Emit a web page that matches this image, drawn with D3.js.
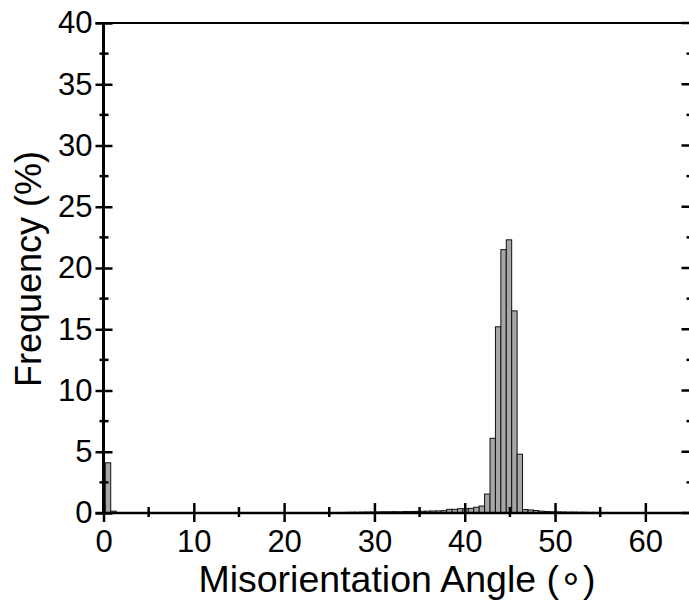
<!DOCTYPE html>
<html>
<head>
<meta charset="utf-8">
<script src="https://cdn.jsdelivr.net/npm/d3@7"></script>
<style>
  html, body { margin: 0; padding: 0; background: #fff; }
  svg { display: block; }
  text { font-family: "Liberation Sans", Arial, sans-serif; fill: #000; }
</style>
</head>
<body>
<svg id="chart" width="689" height="607"></svg>
<script>
// Misorientation angle histogram: bins 0.6° wide, first bin starts at 0.2°
const binStart = 0.2;
const binWidth = 0.6;
const frequency = [
  4.1, 0.15, 0, 0, 0, 0, 0, 0, 0, 0,              // 0.2 – 6.2
  0, 0, 0, 0, 0, 0, 0, 0, 0, 0,                   // 6.2 – 12.2
  0, 0, 0, 0, 0, 0, 0, 0, 0, 0,                   // 12.2 – 18.2
  0, 0, 0, 0, 0, 0, 0, 0, 0, 0,                   // 18.2 – 24.2
  0, 0, 0, 0.03, 0.05, 0.06, 0.06, 0.07, 0.08, 0.08, // 24.2 – 30.2
  0.09, 0.1, 0.1, 0.11, 0.1, 0.12, 0.12, 0.13, 0.14, 0.15, // 30.2 – 36.2
  0.16, 0.17, 0.19, 0.3, 0.3, 0.35, 0.35, 0.38, 0.47, 0.57, // 36.2 – 42.2
  1.55, 6.1, 15.2, 21.5, 22.3, 16.5, 4.8, 0.28, 0.25, 0.2,  // 42.2 – 48.2
  0.15, 0.12, 0.1, 0.09, 0.08, 0.07, 0.07, 0.06, 0.06, 0.05, // 48.2 – 54.2
  0.05, 0.04, 0.04, 0.03, 0.03, 0.02, 0, 0, 0, 0  // 54.2 – 60.2
];
const xTicks = [0, 10, 20, 30, 40, 50, 60];
const yTicks = [0, 5, 10, 15, 20, 25, 30, 35, 40];
const xTitle = "Misorientation Angle (\u2218)";
const yTitle = "Frequency (%)";

const svg = d3.select("#chart");
const plotL = 103.5, plotR = 690.5, plotT = 23, plotB = 513;

const x = d3.scaleLinear().domain([0, 65]).range([plotL, plotR]);
const y = d3.scaleLinear().domain([0, 40]).range([plotB, plotT]);

const bins = frequency.map((v, i) => ({ x0: binStart + i * binWidth, v }))
  .filter(d => d.v > 0);

// bars
svg.append("g").selectAll("rect").data(bins).join("rect")
  .attr("x", d => x(d.x0))
  .attr("width", d => x(d.x0 + binWidth) - x(d.x0))
  .attr("y", d => y(d.v))
  .attr("height", d => y(0) - y(d.v))
  .attr("fill", "#a6a6a6")
  .attr("stroke", "#111")
  .attr("stroke-width", 1);

const minorX = d3.range(5, 65, 10);
const minorY = d3.range(2.5, 40, 5);

// frame: top and right edges
svg.append("line").attr("x1", plotL - 8).attr("x2", plotR).attr("y1", plotT).attr("y2", plotT)
  .attr("stroke", "#000").attr("stroke-width", 2);
svg.append("line").attr("x1", plotR).attr("x2", plotR).attr("y1", plotT).attr("y2", plotB)
  .attr("stroke", "#000").attr("stroke-width", 2.5);

// right axis inward ticks
const rg = svg.append("g").attr("stroke", "#000").attr("stroke-width", 2.5);
rg.selectAll(".rmaj").data(yTicks).join("line").attr("class", "rmaj")
  .attr("x1", plotR - 9).attr("x2", plotR).attr("y1", d => y(d)).attr("y2", d => y(d));
rg.selectAll(".rmin").data(minorY).join("line").attr("class", "rmin")
  .attr("x1", plotR - 4).attr("x2", plotR).attr("y1", d => y(d)).attr("y2", d => y(d));

// left axis
const yAxis = d3.axisLeft(y).tickValues(yTicks).tickSize(8).tickSizeOuter(0).tickPadding(5)
  .tickFormat(d3.format("d"));
const gy = svg.append("g").attr("transform", `translate(${plotL},0)`).call(yAxis);
gy.select(".domain").attr("stroke-width", 3).attr("d", `M0,${plotT - 1}V${plotB + 1}`);
gy.selectAll(".tick line").attr("x2", -8).attr("x1", 9).attr("stroke-width", 2.5);
gy.selectAll(".tick text").attr("font-size", 31).attr("x", -11)
  .style("font-family", "'Liberation Sans', Arial, sans-serif");
gy.selectAll(".ymin").data(minorY).join("line").attr("class", "ymin")
  .attr("x1", -4).attr("x2", 5).attr("y1", d => y(d)).attr("y2", d => y(d))
  .attr("stroke", "#000").attr("stroke-width", 2.5);

// bottom axis
const xAxis = d3.axisBottom(x).tickValues(xTicks).tickSize(9).tickSizeOuter(0).tickPadding(8)
  .tickFormat(d3.format("d"));
const gx = svg.append("g").attr("transform", `translate(0,${plotB})`).call(xAxis);
gx.select(".domain").attr("stroke-width", 2.5).attr("d", `M${plotL - 8},0H${plotR}`);
gx.selectAll(".tick line").attr("y1", -10).attr("y2", 9).attr("stroke-width", 2.5);
gx.selectAll(".tick text").attr("font-size", 31)
  .style("font-family", "'Liberation Sans', Arial, sans-serif");
gx.selectAll(".xmin").data(minorX).join("line").attr("class", "xmin")
  .attr("x1", d => x(d)).attr("x2", d => x(d)).attr("y1", -6).attr("y2", 4)
  .attr("stroke", "#000").attr("stroke-width", 2.5);

// axis titles
svg.append("text").attr("x", 397).attr("y", 592)
  .attr("text-anchor", "middle").attr("font-size", 37.5).text(xTitle);
svg.append("text").attr("transform", `translate(41,${(plotT + plotB) / 2 + 1}) rotate(-90)`)
  .attr("text-anchor", "middle").attr("font-size", 36).text(yTitle);
</script>
</body>
</html>
